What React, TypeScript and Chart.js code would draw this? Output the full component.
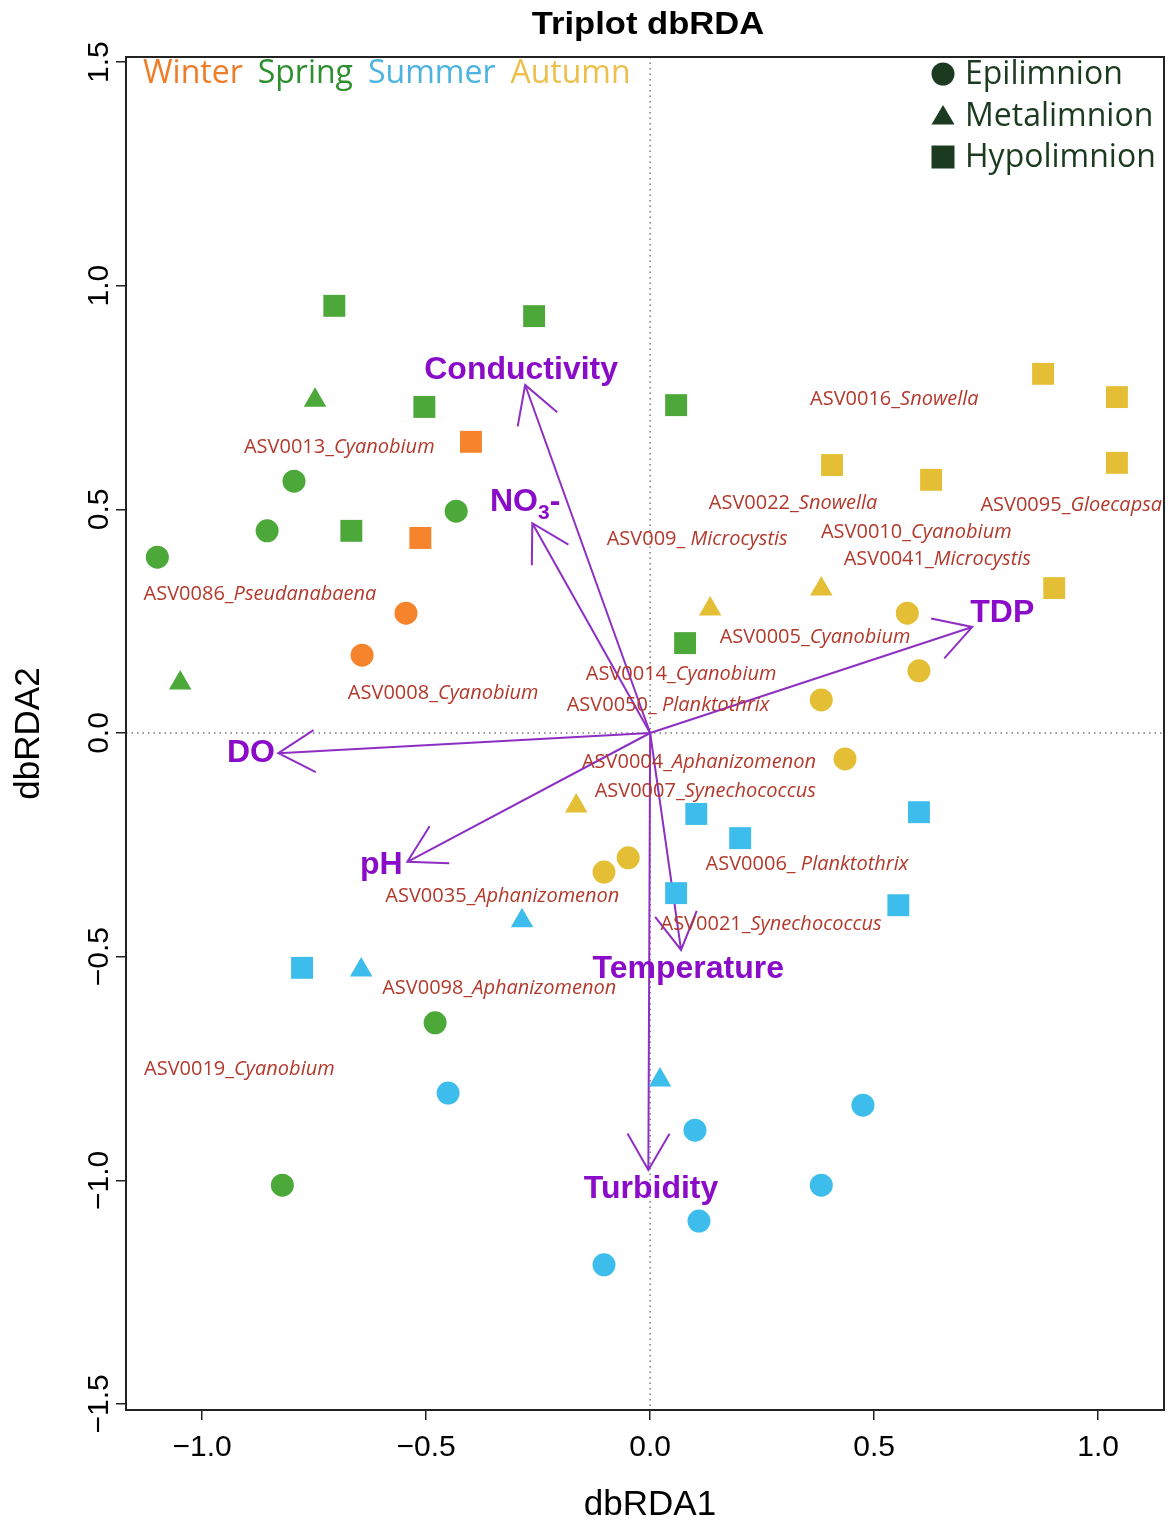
import React, { useEffect, useRef } from "react";
import { Chart, registerables } from "chart.js";

Chart.register(...registerables);

// ---- axis settings -------------------------------------------------------
const xRange = [-1.17, 1.147];
const yRange = [-1.5135, 1.5113];
const xTickValues = [-1.0, -0.5, 0.0, 0.5, 1.0];
const yTickValues = [-1.5, -1.0, -0.5, 0.0, 0.5, 1.0, 1.5];

// ---- site scores [dbRDA1, dbRDA2] by season and layer ---------------------
const winterEpi = [[-0.545, 0.268], [-0.643, 0.174]];
const winterMeta: number[][] = [];
const winterHypo = [[-0.4, 0.651], [-0.513, 0.436]];

const springEpi = [[-0.795, 0.563], [-0.855, 0.452], [-0.433, 0.496], [-1.1, 0.393], [-0.48, -0.648], [-0.821, -1.011]];
const springMeta = [[-0.748, 0.744], [-1.049, 0.112]];
const springHypo = [[-0.705, 0.955], [-0.259, 0.932], [-0.504, 0.729], [0.058, 0.733], [-0.667, 0.452], [0.078, 0.201]];

const summerEpi = [[-0.451, -0.805], [0.1, -0.888], [0.475, -0.832], [0.382, -1.011], [0.109, -1.091], [-0.103, -1.189]];
const summerMeta = [[-0.286, -0.42], [-0.645, -0.53], [0.022, -0.776]];
const summerHypo = [[0.103, -0.181], [0.201, -0.235], [0.6, -0.177], [0.058, -0.358], [0.554, -0.385], [-0.777, -0.525]];

const autumnEpi = [[0.574, 0.268], [0.6, 0.139], [0.382, 0.074], [0.435, -0.058], [-0.049, -0.279], [-0.103, -0.311]];
const autumnMeta = [[0.134, 0.277], [0.382, 0.322], [-0.165, -0.163]];
const autumnHypo = [[0.877, 0.803], [1.042, 0.751], [0.406, 0.599], [0.627, 0.566], [1.042, 0.604], [0.902, 0.324]];

const seasonNames = ["Winter", "Spring", "Summer", "Autumn"];
const layerNames = ["Epilimnion", "Metalimnion", "Hypolimnion"];

// ---- environmental vectors (arrow tips) and their label anchors -----------
const envNames = ["Conductivity", "NO3-", "TDP", "DO", "pH", "Temperature", "Turbidity"];
const envX = [-0.279, -0.263, 0.719, -0.83, -0.542, 0.069, -0.004];
const envY = [0.778, 0.469, 0.237, -0.045, -0.288, -0.485, -0.977];
const envLabelX = [-0.288, -0.279, 0.786, -0.891, -0.6, 0.085, 0.002];
const envLabelY = [0.811, 0.516, 0.268, -0.045, -0.295, -0.528, -1.019];

// ---- species (ASV) labels --------------------------------------------------
const speciesIds = [
  "ASV0013_", "ASV0086_", "ASV0008_", "ASV0016_", "ASV0022_", "ASV0095_", "ASV009_ ",
  "ASV0010_", "ASV0041_", "ASV0005_", "ASV0014_", "ASV0050_ ", "ASV0004_", "ASV0007_",
  "ASV0006_ ", "ASV0035_", "ASV0021_", "ASV0098_", "ASV0019_",
];
const speciesGenera = [
  "Cyanobium", "Pseudanabaena", "Cyanobium", "Snowella", "Snowella", "Gloecapsa", "Microcystis",
  "Cyanobium", "Microcystis", "Cyanobium", "Cyanobium", "Planktothrix", "Aphanizomenon", "Synechococcus",
  "Planktothrix", "Aphanizomenon", "Synechococcus", "Aphanizomenon", "Cyanobium",
];
const speciesX = [-0.694, -0.871, -0.462, 0.545, 0.319, 0.94, 0.105, 0.594, 0.641, 0.368, 0.069, 0.04, 0.109, 0.123, 0.35, -0.33, 0.27, -0.337, -0.917];
const speciesY = [0.639, 0.309, 0.089, 0.747, 0.514, 0.51, 0.434, 0.449, 0.389, 0.215, 0.132, 0.063, -0.065, -0.13, -0.293, -0.364, -0.427, -0.57, -0.751];

// ---- styling ----------------------------------------------------------------
const seasonPointColors = ["#F6842D", "#4DA83A", "#3DBDEB", "#E4BF35"];
const seasonTextColors = ["#EE7D28", "#2E8F2E", "#4DB3DF", "#EDC04E"];
const layerStyles = ["circle", "triangle", "rect"];
const layerRadius = [11.5, 13, 15.5];
const legendGreen = "#1B3A20";
const envTextColor = "#8A0CC8";
const envLineColor = "#8E2FC4";
const speciesColor = "#B2392C";
const AX_FONT = '"Liberation Sans", Arial, Helvetica, sans-serif';
const TXT_FONT = '"Open Sans", "Noto Sans", sans-serif';

const fmt = (v: number) => (v < 0 ? "\u2212" : "") + Math.abs(v).toFixed(1);

const triplotDecor = {
  id: "triplotDecor",
  beforeDatasetsDraw(chart: any) {
    const { ctx, chartArea: a, scales } = chart;
    const xs = scales.x;
    const ys = scales.y;
    const ox = xs.getPixelForValue(0);
    const oy = ys.getPixelForValue(0);
    ctx.save();
    // dotted zero lines
    ctx.strokeStyle = "#7a7a7a";
    ctx.lineWidth = 1.5;
    ctx.setLineDash([1.5, 4]);
    ctx.beginPath();
    ctx.moveTo(a.left, oy);
    ctx.lineTo(a.right, oy);
    ctx.moveTo(ox, a.top);
    ctx.lineTo(ox, a.bottom);
    ctx.stroke();
    ctx.setLineDash([]);
    // environmental arrows
    ctx.strokeStyle = envLineColor;
    ctx.lineWidth = 2;
    const headLen = 42;
    const headAng = Math.PI / 6;
    envNames.forEach((_, i) => {
      const tx = xs.getPixelForValue(envX[i]);
      const ty = ys.getPixelForValue(envY[i]);
      const ang = Math.atan2(ty - oy, tx - ox);
      ctx.beginPath();
      ctx.moveTo(ox, oy);
      ctx.lineTo(tx, ty);
      ctx.moveTo(tx - headLen * Math.cos(ang - headAng), ty - headLen * Math.sin(ang - headAng));
      ctx.lineTo(tx, ty);
      ctx.lineTo(tx - headLen * Math.cos(ang + headAng), ty - headLen * Math.sin(ang + headAng));
      ctx.stroke();
    });
    ctx.restore();
  },
  afterDatasetsDraw(chart: any) {
    const { ctx, scales } = chart;
    const xs = scales.x;
    const ys = scales.y;
    ctx.save();
    // species labels: id upright, genus in italics
    ctx.fillStyle = speciesColor;
    ctx.textBaseline = "middle";
    ctx.textAlign = "left";
    const up = `20px ${TXT_FONT}`;
    const it = `italic 20px ${TXT_FONT}`;
    speciesIds.forEach((id, i) => {
      ctx.font = up;
      const w1 = ctx.measureText(id).width;
      ctx.font = it;
      const w2 = ctx.measureText(speciesGenera[i]).width;
      const cx = xs.getPixelForValue(speciesX[i]);
      const cy = ys.getPixelForValue(speciesY[i]);
      const start = cx - (w1 + w2) / 2;
      ctx.font = up;
      ctx.fillText(id, start, cy);
      ctx.font = it;
      ctx.fillText(speciesGenera[i], start + w1, cy);
    });
    // environmental variable labels
    ctx.fillStyle = envTextColor;
    const big = `bold 32px ${AX_FONT}`;
    const sub = `bold 21px ${AX_FONT}`;
    envNames.forEach((name, i) => {
      const cx = xs.getPixelForValue(envLabelX[i]);
      const cy = ys.getPixelForValue(envLabelY[i]);
      if (name === "NO3-") {
        ctx.font = big;
        const wNO = ctx.measureText("NO").width;
        const wDash = ctx.measureText("-").width;
        ctx.font = sub;
        const w3 = ctx.measureText("3").width;
        const start = cx - (wNO + w3 + wDash) / 2;
        ctx.textAlign = "left";
        ctx.font = big;
        ctx.fillText("NO", start, cy);
        ctx.font = sub;
        ctx.fillText("3", start + wNO, cy + 11);
        ctx.font = big;
        ctx.fillText("-", start + wNO + w3, cy);
      } else {
        ctx.font = big;
        ctx.textAlign = "center";
        ctx.fillText(name, cx, cy);
      }
    });
    ctx.restore();
  },
  afterDraw(chart: any) {
    const { ctx, chartArea: a, scales } = chart;
    const xs = scales.x;
    const ys = scales.y;
    ctx.save();
    // frame
    ctx.strokeStyle = "#222";
    ctx.lineWidth = 2;
    ctx.strokeRect(a.left, a.top, a.right - a.left, a.bottom - a.top);
    // tick labels
    ctx.fillStyle = "#000";
    ctx.font = `30px ${AX_FONT}`;
    ctx.textAlign = "center";
    ctx.textBaseline = "alphabetic";
    xs.ticks.forEach((t: any) => {
      ctx.fillText(fmt(t.value), xs.getPixelForValue(t.value), a.bottom + 46);
    });
    ys.ticks.forEach((t: any) => {
      ctx.save();
      ctx.translate(a.left - 18, ys.getPixelForValue(t.value));
      ctx.rotate(-Math.PI / 2);
      ctx.fillText(fmt(t.value), 0, 0);
      ctx.restore();
    });
    // axis titles
    ctx.font = `35px ${AX_FONT}`;
    ctx.fillText("dbRDA1", (a.left + a.right) / 2 + 5, a.bottom + 105);
    ctx.save();
    ctx.translate(39, (a.top + a.bottom) / 2);
    ctx.rotate(-Math.PI / 2);
    ctx.fillText("dbRDA2", 0, 0);
    ctx.restore();
    // main title
    ctx.save();
    ctx.translate((a.left + a.right) / 2 + 3, a.top - 23);
    ctx.scale(1.08, 1);
    ctx.font = `bold 32px ${AX_FONT}`;
    ctx.fillText("Triplot dbRDA", 0, 0);
    ctx.restore();
    // season legend (coloured words)
    ctx.font = `32px ${TXT_FONT}`;
    ctx.textAlign = "left";
    let lx = a.left + 17;
    seasonNames.forEach((s, i) => {
      ctx.fillStyle = seasonTextColors[i];
      ctx.fillText(s, lx, a.top + 26);
      lx += ctx.measureText(s).width + 15;
    });
    // layer legend (symbols)
    ctx.font = `32px ${TXT_FONT}`;
    ctx.fillStyle = legendGreen;
    const mx = 943;
    layerNames.forEach((name, i) => {
      const cy = a.top + 17 + i * 41.5;
      ctx.beginPath();
      if (i === 0) {
        ctx.arc(mx, cy, 11.5, 0, Math.PI * 2);
      } else if (i === 1) {
        ctx.moveTo(mx, cy - 10.5);
        ctx.lineTo(mx + 11.5, cy + 9);
        ctx.lineTo(mx - 11.5, cy + 9);
        ctx.closePath();
      } else {
        ctx.rect(mx - 11.5, cy - 11.5, 23, 23);
      }
      ctx.fill();
      ctx.fillText(name, 965, cy + 10);
    });
    ctx.restore();
  },
};

const seriesTable = [
  [winterEpi, winterMeta, winterHypo],
  [springEpi, springMeta, springHypo],
  [summerEpi, summerMeta, summerHypo],
  [autumnEpi, autumnMeta, autumnHypo],
];

export default function App() {
  const canvasRef = useRef<HTMLCanvasElement | null>(null);

  useEffect(() => {
    if (!canvasRef.current) return;
    const datasets: any[] = [];
    seriesTable.forEach((layers, si) => {
      layers.forEach((pts, li) => {
        datasets.push({
          label: `${seasonNames[si]} ${layerNames[li]}`,
          data: pts.map(([x, y]) => ({ x, y })),
          pointStyle: layerStyles[li],
          pointRadius: layerRadius[li],
          backgroundColor: seasonPointColors[si],
          borderColor: seasonPointColors[si],
          borderWidth: 0,
          pointHoverRadius: layerRadius[li],
        });
      });
    });

    const tickAxis = (len: number, values: number[], horizontal: boolean) => ({
      type: "linear" as const,
      display: true,
      border: { display: false },
      grid: {
        display: true,
        drawOnChartArea: false,
        drawTicks: true,
        tickLength: 10,
        color: "#222",
        lineWidth: 1.5,
      },
      ticks: { display: false },
      afterBuildTicks: (scale: any) => {
        scale.ticks = values.map((v) => ({ value: v }));
      },
      afterFit: (scale: any) => {
        if (horizontal) scale.height = len;
        else scale.width = len;
      },
    });

    const chart = new Chart(canvasRef.current, {
      type: "scatter",
      data: { datasets },
      options: {
        animation: false,
        responsive: false,
        devicePixelRatio: 1,
        layout: { autoPadding: false, padding: { left: 0, top: 57, right: 6, bottom: 0 } },
        plugins: { legend: { display: false }, tooltip: { enabled: false }, title: { display: false } },
        scales: {
          x: { ...tickAxis(110, xTickValues, true), position: "bottom", min: xRange[0], max: xRange[1] },
          y: { ...tickAxis(126, yTickValues, false), position: "left", min: yRange[0], max: yRange[1] },
        },
      },
      plugins: [triplotDecor],
    });
    return () => chart.destroy();
  }, []);

  return (
    <div style={{ position: "absolute", left: 0, top: 0, width: 1170, height: 1520, background: "#fff" }}>
      <canvas ref={canvasRef} width={1170} height={1520} style={{ display: "block" }} />
    </div>
  );
}
